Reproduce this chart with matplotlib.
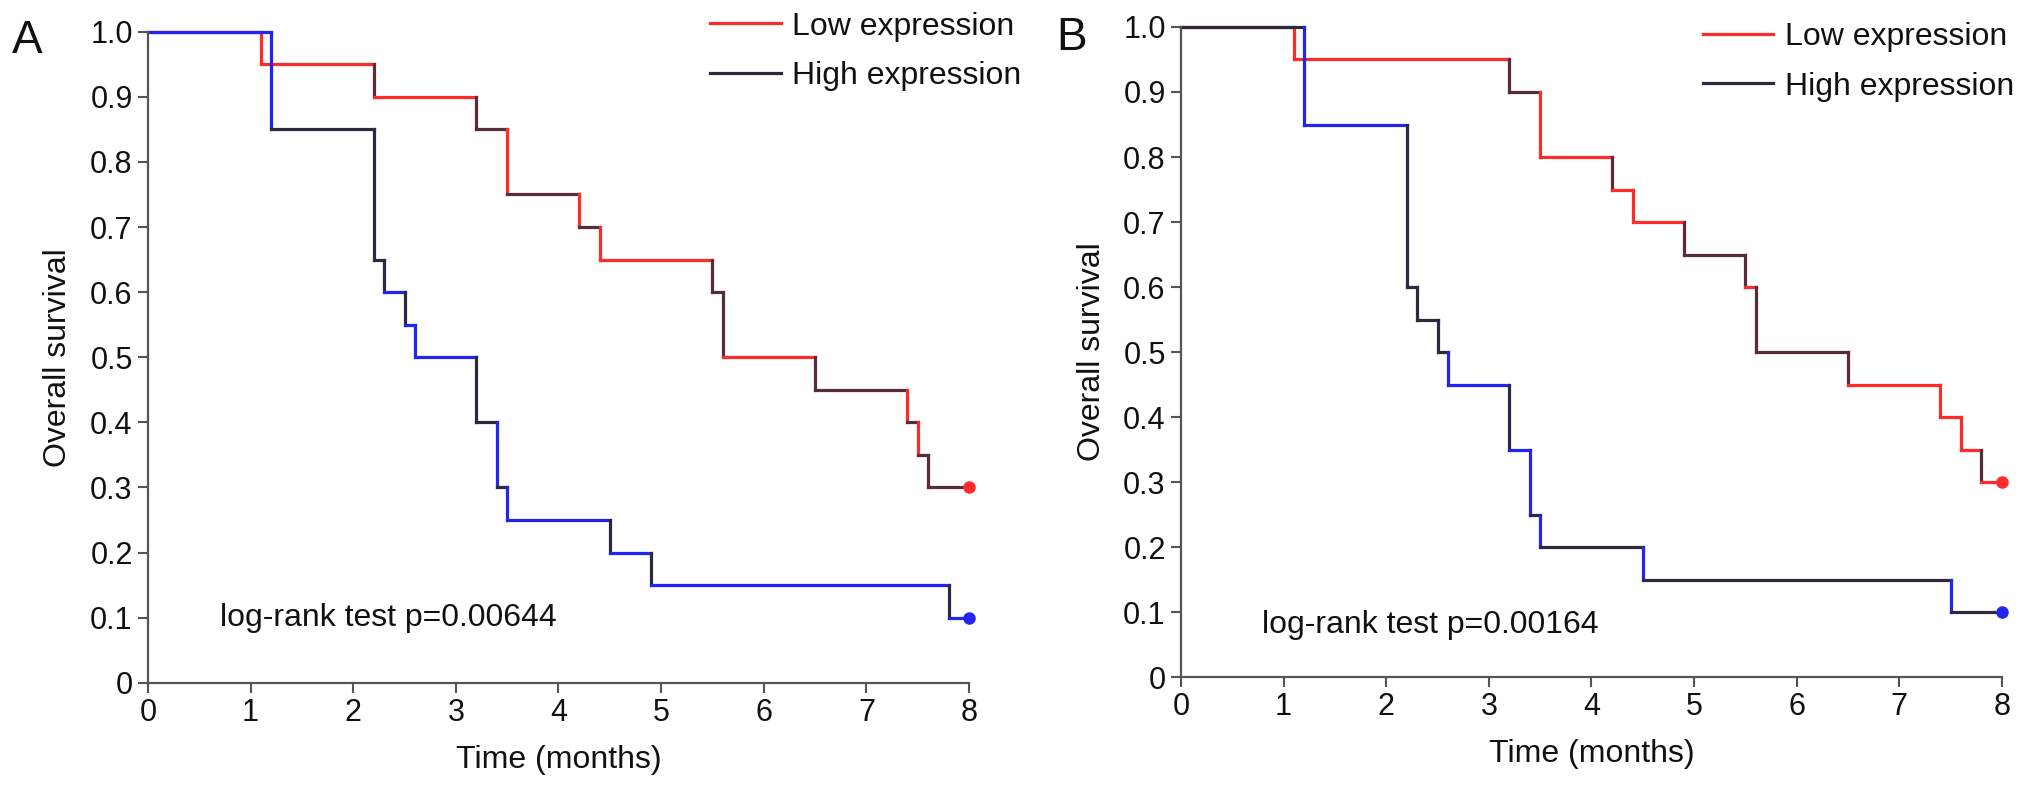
import matplotlib
matplotlib.use("Agg")
import matplotlib.pyplot as plt
from matplotlib.lines import Line2D

plt.rcParams['font.family'] = ['Liberation Sans', 'DejaVu Sans']

# Panel A
a_low_t = [0, 1.1, 2.2, 3.2, 3.5, 4.2, 4.4, 5.5, 5.6, 6.5, 7.4, 7.5, 7.6]
a_low_s = [1.0, 0.95, 0.9, 0.85, 0.75, 0.7, 0.65, 0.6, 0.5, 0.45, 0.4, 0.35, 0.3]
a_high_t = [0, 1.2, 2.2, 2.3, 2.5, 2.6, 3.2, 3.4, 3.5, 4.5, 4.9, 7.8]
a_high_s = [1.0, 0.85, 0.65, 0.6, 0.55, 0.5, 0.4, 0.3, 0.25, 0.2, 0.15, 0.1]
a_pval = "log-rank test p=0.00644"

# Panel B
b_low_t = [0, 1.1, 3.2, 3.5, 4.2, 4.4, 4.9, 5.5, 5.6, 6.5, 7.4, 7.6, 7.8]
b_low_s = [1.0, 0.95, 0.9, 0.8, 0.75, 0.7, 0.65, 0.6, 0.5, 0.45, 0.4, 0.35, 0.3]
b_high_t = [0, 1.2, 2.2, 2.3, 2.5, 2.6, 3.2, 3.4, 3.5, 4.5, 7.5]
b_high_s = [1.0, 0.85, 0.6, 0.55, 0.5, 0.45, 0.35, 0.25, 0.2, 0.15, 0.1]
b_pval = "log-rank test p=0.00164"

t_end = 8
labels = ["Low expression", "High expression"]
x_ticks = list(range(0, 9))
y_ticks = [0, 0.1, 0.2, 0.3, 0.4, 0.5, 0.6, 0.7, 0.8, 0.9, 1.0]
y_ticklabels = ["0", "0.1", "0.2", "0.3", "0.4", "0.5", "0.6", "0.7", "0.8", "0.9", "1.0"]

RED = "#ff2b2b"
RED_DARK = "#5a2c3a"
BLUE = "#2424f2"
BLUE_DARK = "#2c2a3e"
AXC = "#555555"
TXT = "#111111"
LW = 2.3

# which segments look dark in the original (h0 v0 h1 v1 ...)
muster = {
    "a_low": "ccckckkckckcckkkckkckckkk",
    "a_high": "cckkkkckccckkckcckckckc",
    "b_low": "ccckkcckccckkkckkkccccckc",
    "b_high": "kcckkkkkkcckcckckckck",
}


def km_kurve(ax, t, s, farbe, dunkel, code):
    zeiten = list(t) + [t_end]
    k = 0
    for i in range(len(s)):
        c = dunkel if code[k] == "k" else farbe
        ax.plot([zeiten[i], zeiten[i + 1]], [s[i], s[i]], color=c, lw=LW,
                solid_capstyle="projecting", clip_on=False)
        k += 1
        if i < len(s) - 1:
            c = dunkel if code[k] == "k" else farbe
            ax.plot([zeiten[i + 1], zeiten[i + 1]], [s[i], s[i + 1]], color=c,
                    lw=LW, solid_capstyle="projecting", clip_on=False)
            k += 1
    ax.plot([t_end], [s[-1]], "o", color=farbe, ms=8, clip_on=False, zorder=5)


def panel(ax, low_t, low_s, high_t, high_s, code_low, code_high, ptext, px, py,
          leg_xy, buchstabe, bx, by):
    km_kurve(ax, low_t, low_s, RED, RED_DARK, code_low)
    km_kurve(ax, high_t, high_s, BLUE, BLUE_DARK, code_high)

    ax.set_xlim(0, 8)
    ax.set_ylim(0, 1.0)
    ax.set_xticks(x_ticks)
    ax.set_yticks(y_ticks)
    ax.set_yticklabels(y_ticklabels)
    for sp in ["top", "right"]:
        ax.spines[sp].set_visible(False)
    for sp in ["left", "bottom"]:
        ax.spines[sp].set_color(AXC)
        ax.spines[sp].set_linewidth(1.6)
    ax.tick_params(axis="both", direction="out", length=7, width=1.5,
                   color=AXC, labelsize=22, pad=4, labelcolor=TXT)

    ax.set_xlabel("Time (months)", fontsize=23, labelpad=12, color=TXT)
    ax.set_ylabel("Overall survival", fontsize=23, labelpad=12, color=TXT)

    ax.text(px, py, ptext, fontsize=23, va="center", ha="left", color=TXT)

    handles = [Line2D([], [], color=RED, lw=LW), Line2D([], [], color=BLUE_DARK, lw=LW)]
    ax.legend(handles, labels, loc="upper left", bbox_to_anchor=leg_xy,
              frameon=False, fontsize=23, handlelength=2.2, handletextpad=0.35,
              labelspacing=0.6, borderpad=0, borderaxespad=0, labelcolor=TXT)

    ax.figure.text(bx, by, buchstabe, fontsize=33, ha="left", va="baseline",
                   color=TXT)


fig = plt.figure(figsize=(20.32, 7.93), dpi=100)
ax_a = fig.add_axes([0.0728, 0.139, 0.4041, 0.821])
ax_b = fig.add_axes([0.5812, 0.146, 0.4040, 0.820])

panel(ax_a, a_low_t, a_low_s, a_high_t, a_high_s, muster["a_low"], muster["a_high"],
      a_pval, 0.7, 0.1, (0.685, 1.031), "A", 0.006, 0.933)
panel(ax_b, b_low_t, b_low_s, b_high_t, b_high_s, muster["b_low"], muster["b_high"],
      b_pval, 0.79, 0.08, (0.636, 1.007), "B", 0.520, 0.937)

fig.savefig("out.png", dpi=100)
